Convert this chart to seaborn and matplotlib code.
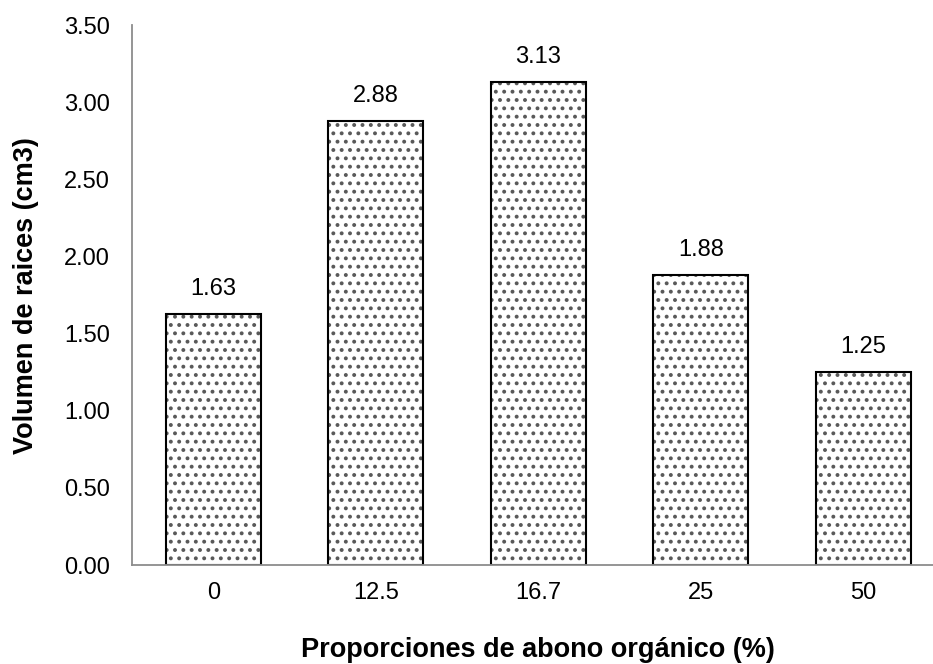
import matplotlib
matplotlib.use("Agg")
import matplotlib.pyplot as plt
import matplotlib.ticker as mtick
import seaborn as sns
import pandas as pd

# ─── Data ─────────────────────────────────────────────────────────────────────
proporciones = ["0", "12.5", "16.7", "25", "50"]
volumen = [1.63, 2.88, 3.13, 1.88, 1.25]

df = pd.DataFrame({"prop": proporciones, "vol": volumen})

# ─── Style ────────────────────────────────────────────────────────────────────
sns.set_style("white")
plt.rcParams["font.family"] = ["Liberation Sans", "DejaVu Sans"]
plt.rcParams["hatch.linewidth"] = 1.6
plt.rcParams["text.color"] = "black"
plt.rcParams["axes.labelcolor"] = "black"
plt.rcParams["xtick.color"] = "black"
plt.rcParams["ytick.color"] = "black"

fig = plt.figure(figsize=(9.33, 6.64), dpi=100)
ax = fig.add_axes([0.1415, 0.149, 0.871, 0.813])

sns.barplot(data=df, x="prop", y="vol", color="white", edgecolor="black",
            linewidth=1.5, width=0.585, hatch="..", saturation=1, ax=ax)
for p in ax.patches:
    p.set_facecolor("white")
    p._hatch_color = (0.35, 0.35, 0.35, 1.0)

ax.bar_label(ax.containers[0], fmt="%.2f", padding=10, fontsize=17)

ax.set_ylim(0, 3.5)
ax.set_xlim(-0.5, 4.5)
ax.yaxis.set_major_locator(mtick.MultipleLocator(0.5))
ax.yaxis.set_major_formatter(mtick.FormatStrFormatter("%.2f"))
ax.tick_params(axis="y", length=0, pad=16, labelsize=17)
ax.tick_params(axis="x", length=0, pad=12, labelsize=17)

for side in ["top", "right"]:
    ax.spines[side].set_visible(False)
for side in ["left", "bottom"]:
    ax.spines[side].set_color("#8c8c8c")
    ax.spines[side].set_linewidth(1.3)

ax.set_xlabel("Proporciones de abono orgánico (%)", fontsize=19.5,
              fontweight="bold", labelpad=24)
ax.set_ylabel("Volumen de raices (cm3)", fontsize=19.5, fontweight="bold",
              labelpad=18)

plt.savefig("out.png", dpi=100)
plt.close()
